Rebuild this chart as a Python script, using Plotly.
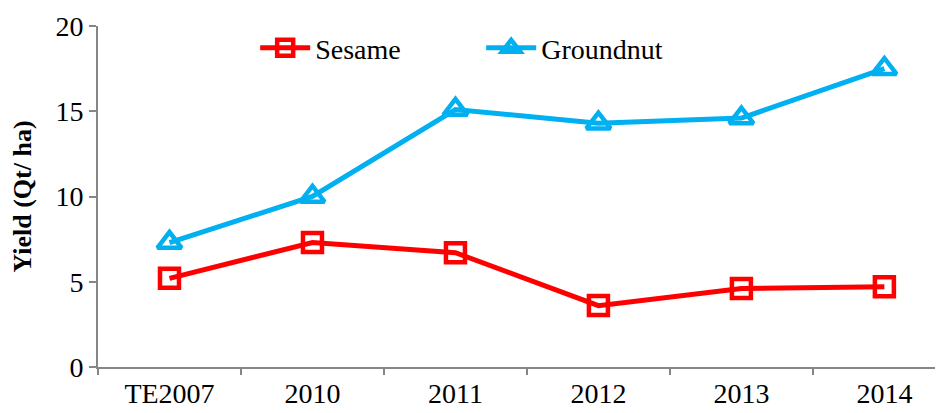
import plotly.graph_objects as go

categories = ["TE2007", "2010", "2011", "2012", "2013", "2014"]
sesame = [5.2, 7.3, 6.7, 3.6, 4.6, 4.7]
groundnut = [7.3, 10.0, 15.1, 14.3, 14.6, 17.5]
y_ticks = [0, 5, 10, 15, 20]

FONT = "Times New Roman"
AXIS_GREY = "#868686"

fig = go.Figure()
fig.add_trace(
    go.Scatter(
        x=categories,
        y=sesame,
        name="Sesame",
        mode="lines+markers",
        line=dict(color="#FF0000", width=5),
        marker=dict(symbol="square-open", size=19, color="#FF0000",
                    line=dict(width=4.5, color="#FF0000")),
    )
)
fig.add_trace(
    go.Scatter(
        x=categories,
        y=groundnut,
        name="Groundnut",
        mode="lines+markers",
        line=dict(color="#00B0F0", width=5),
        marker=dict(symbol="triangle-up-open", size=21, color="#00B0F0",
                    line=dict(width=4.5, color="#00B0F0")),
    )
)

# page body adds an 8px offset, so the figure is sized to the visible window
fig.update_layout(
    width=935,
    height=405,
    margin=dict(l=90, r=0, t=18, b=46, autoexpand=False),
    paper_bgcolor="white",
    plot_bgcolor="white",
    font=dict(family=FONT, size=28, color="black"),
    showlegend=True,
    legend=dict(
        orientation="h",
        x=0.186, y=0.935,
        xanchor="left", yanchor="middle",
        font=dict(family=FONT, size=28),
        itemwidth=50,
        entrywidth=161,
        bgcolor="rgba(0,0,0,0)",
    ),
    xaxis=dict(
        type="category",
        range=[-0.5, 5.41],
        automargin=False,
        showline=True, linecolor=AXIS_GREY, linewidth=2,
        ticks="outside", tickson="boundaries", ticklen=6,
        tickcolor=AXIS_GREY, tickwidth=2,
        showgrid=False, zeroline=False,
        tickfont=dict(family=FONT, size=28),
    ),
    yaxis=dict(
        range=[0, 20],
        tickvals=y_ticks,
        automargin=False,
        showline=True, linecolor=AXIS_GREY, linewidth=2,
        ticks="outside", ticklen=7, tickcolor=AXIS_GREY, tickwidth=2,
        showgrid=False, zeroline=False,
        tickfont=dict(family=FONT, size=28),
        title=dict(text="<b>Yield (Qt/ ha)</b>",
                   font=dict(family=FONT, size=26), standoff=18),
    ),
)

fig.write_html("out.html")
